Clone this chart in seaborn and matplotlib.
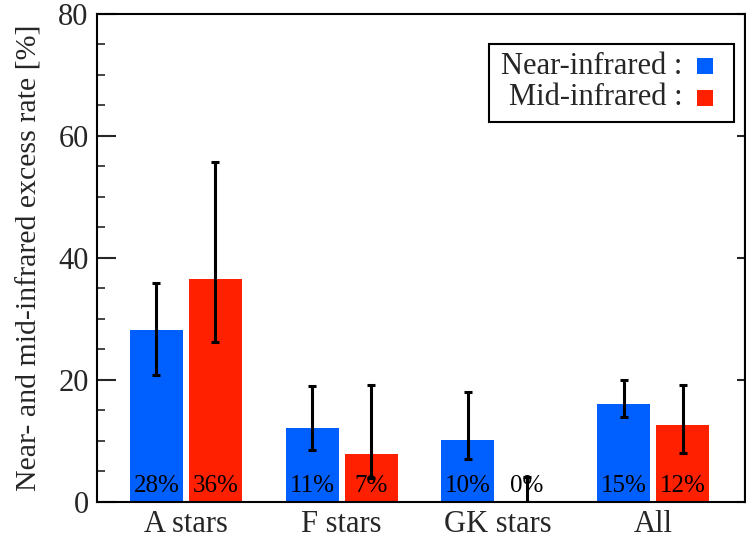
import numpy as np
import pandas as pd
import matplotlib
matplotlib.use("Agg")
import matplotlib.pyplot as plt
from matplotlib.patches import Rectangle
import seaborn as sns

categories = ["A stars", "F stars", "GK stars", "All"]
series = ["Near-infrared", "Mid-infrared"]
near_vals = [28.2, 12.1, 10.2, 16.1]
mid_vals = [36.6, 7.9, 0.0, 12.6]
near_hi = [35.9, 19.0, 18.0, 20.0]
near_lo = [20.8, 8.5, 7.0, 13.9]
mid_hi = [55.7, 19.2, 4.1, 19.2]
mid_lo = [26.2, 3.9, 0.0, 8.0]
near_labels = ["28%", "11%", "10%", "15%"]
mid_labels = ["36%", "7%", "0%", "12%"]
colors = ["#0060ff", "#ff2000"]

sns.set_style("ticks")
plt.rcParams["font.family"] = ["Liberation Serif", "DejaVu Serif"]

df = pd.DataFrame({
    "cat": categories * 2,
    "series": [series[0]] * 4 + [series[1]] * 4,
    "val": near_vals + mid_vals,
})

fig = plt.figure(figsize=(7.46, 5.43), dpi=100)
ax = fig.add_axes([0.130, 0.0755, 0.868, 0.899])
sns.barplot(data=df, x="cat", y="val", hue="series", order=categories,
            hue_order=series, palette=colors, width=0.758, gap=0.103,
            errorbar=None, legend=False, ax=ax, saturation=1, linewidth=0)

his = [near_hi, mid_hi]
los = [near_lo, mid_lo]
labs = [near_labels, mid_labels]
vals = [near_vals, mid_vals]
bar_conts = list(ax.containers)
for k, cont in enumerate(bar_conts):
    for i, bar in enumerate(cont):
        xc = bar.get_x() + bar.get_width() / 2
        v = vals[k][i]
        ax.errorbar([xc], [v], yerr=[[v - los[k][i]], [his[k][i] - v]],
                    fmt="none", ecolor="black", elinewidth=2.2, capsize=2.7,
                    capthick=2.2, zorder=3)
        ax.text(xc, 0.9, labs[k][i], ha="center", va="bottom", fontsize=18,
                color="black", zorder=4)

ax.set_xlim(-0.571, 3.587)
ax.set_ylim(0, 80)
ax.set_yticks([0, 20, 40, 60, 80])
ax.set_yticks(np.arange(0, 81, 5), minor=True)
ax.set_xlabel("")
ax.set_ylabel("Near- and mid-infrared excess rate [%]", fontsize=21.5,
              labelpad=11)
for s in ax.spines.values():
    s.set_visible(True)
    s.set_linewidth(1.5)
    s.set_color("black")
ax.tick_params(axis="y", which="major", direction="in", length=14, width=1.5,
               left=True, right=False, labelsize=22, pad=6)
ax.tick_params(axis="y", which="minor", direction="in", length=6, width=1.2,
               left=True, right=False)
ax.tick_params(axis="x", which="both", length=0, labelsize=22, pad=6)

sec = ax.secondary_yaxis("right")
sec.set_yticks([0, 20, 40, 60, 80])
sec.tick_params(axis="y", which="major", direction="in", length=6, width=1.5,
                labelright=False)
sec.tick_params(axis="y", which="minor", length=0)
sec.spines["right"].set_linewidth(1.5)

# legend box
ax.add_patch(Rectangle((0.605, 0.779), 0.378, 0.160, transform=ax.transAxes,
                       fill=False, edgecolor="black", linewidth=1.5, zorder=5))
leg_y = [0.893, 0.828]
for k in range(2):
    ax.text(0.904, leg_y[k], series[k] + " :", transform=ax.transAxes,
            ha="right", va="center", fontsize=22, zorder=6)
    ax.add_patch(Rectangle((0.926, leg_y[k] - 0.0164), 0.0247, 0.0328,
                           transform=ax.transAxes, facecolor=colors[k],
                           edgecolor="none", zorder=6))

fig.savefig("out.png", dpi=100)
